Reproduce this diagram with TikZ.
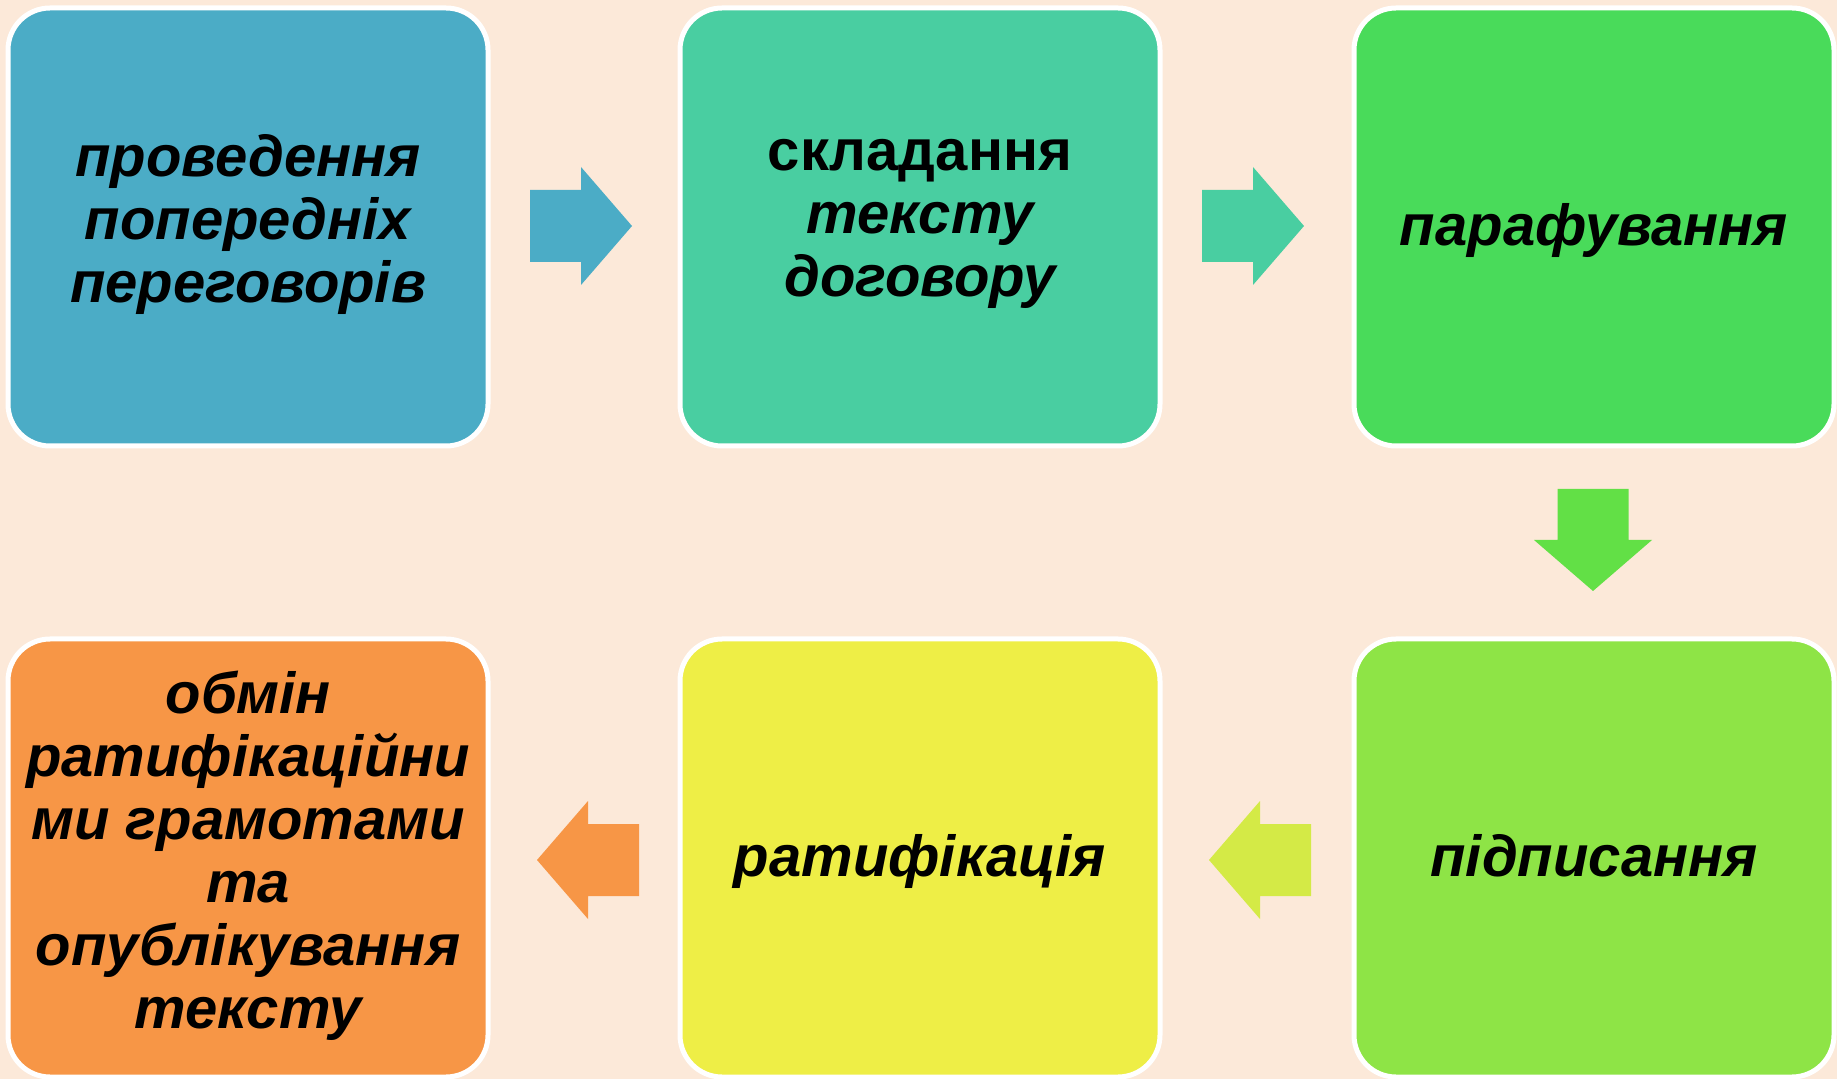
\documentclass[tikz,border=0pt]{standalone}
\usepackage{fontspec}
\setmainfont{Liberation Sans}
\usepackage{tikz}
\usetikzlibrary{calc}
\usepackage{xcolor}

\definecolor{bgpeach}{HTML}{FCE9D9}
\definecolor{stepblue}{HTML}{4BACC6}
\definecolor{stepteal}{HTML}{49CEA1}
\definecolor{stepgreen}{HTML}{49DB5A}
\definecolor{steplime}{HTML}{8EE446}
\definecolor{stepyellow}{HTML}{EEEE46}
\definecolor{steporange}{HTML}{F79646}
\definecolor{arrowgreen}{HTML}{62E046}
\definecolor{arrowlime}{HTML}{D4EA46}

% even line height so every label sits the same way in its box
\newcommand{\evenline}{\rule[-0.3em]{0pt}{1.25em}}

\tikzset{
    stagebox/.style={draw=white, line width=2.5pt, rounded corners=21pt,
        minimum width=240pt, minimum height=219pt, inner sep=0pt,
        align=center, font=\fontsize{29}{31.5}\selectfont\bfseries\itshape,
        execute at begin node=\evenline, execute at end node=\evenline}
}

\begin{document}
\begin{tikzpicture}[x=0.5pt, y=-0.5pt]

    % 1. Background and bounding box
    \fill[bgpeach] (0,0) rectangle (1837,1079);
    \useasboundingbox (0,0) rectangle (1837,1079);

    % 2. The six stages (top row left to right, bottom row right to left)
    \node[stagebox, fill=stepblue] (talks) at (248,227)
        {проведення\\попередніх\\переговорів};
    \node[stagebox, fill=stepteal] (draft) at (920,227)
        {{\upshape складання}\\тексту\\договору};
    \node[stagebox, fill=stepgreen] (initial) at (1594,227) {парафування};
    \node[stagebox, fill=steplime] (sign) at (1594,858) {підписання};
    \node[stagebox, fill=stepyellow] (ratify) at (920,858) {ратифікація};
    \node[stagebox, fill=steporange] (exchange) at (248,858)
        {обмін\\ратифікаційни\\ми грамотами\\та\\опублікування\\тексту};

    % 3. Arrow tips
    \coordinate (T1) at (632,226);
    \coordinate (T2) at (1304,226);
    \coordinate (T3) at (1593,591);
    \coordinate (T4) at (1209,860);
    \coordinate (T5) at (537,860);

    % 4. Block arrows pointing right (top row)
    \fill[stepblue] (T1) -- ++(-51,-59) -- ++(0,23) -- ++(-51,0) -- ++(0,72)
        -- ++(51,0) -- ++(0,23) -- cycle;
    \fill[stepteal] (T2) -- ++(-51,-59) -- ++(0,23) -- ++(-51,0) -- ++(0,72)
        -- ++(51,0) -- ++(0,23) -- cycle;

    % 5. Block arrow pointing down
    \fill[arrowgreen] (T3) -- ++(-59,-51) -- ++(23.5,0) -- ++(0,-51) -- ++(71,0)
        -- ++(0,51) -- ++(23.5,0) -- cycle;

    % 6. Block arrows pointing left (bottom row)
    \fill[arrowlime] (T4) -- ++(51,-59) -- ++(0,23) -- ++(51,0) -- ++(0,72)
        -- ++(-51,0) -- ++(0,23) -- cycle;
    \fill[steporange] (T5) -- ++(51,-59) -- ++(0,23) -- ++(51,0) -- ++(0,72)
        -- ++(-51,0) -- ++(0,23) -- cycle;

\end{tikzpicture}
\end{document}
